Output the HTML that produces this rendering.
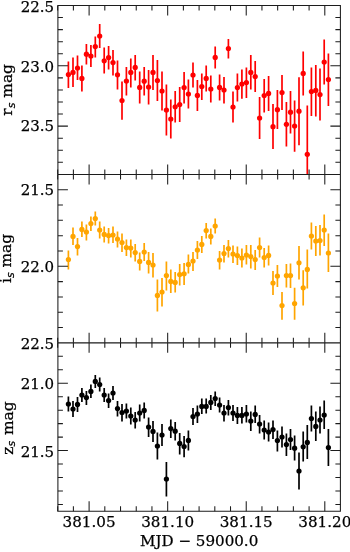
<!DOCTYPE html>
<html><head><meta charset="utf-8"><title>light curves</title>
<style>html,body{margin:0;padding:0;background:#fff}svg{display:block}text{font-family:"DejaVu Serif","Liberation Serif",serif;fill:#000;stroke:#000;stroke-width:0.25px}</style></head><body>
<svg width="350" height="552" viewBox="0 0 350 552">
<rect width="350" height="552" fill="#fff"/>
<clipPath id="c0"><rect x="57.9" y="5.50" width="282.50" height="168.90"/></clipPath>
<g clip-path="url(#c0)" stroke="#ff0000" fill="#ff0000">
<path d="M68.40 61.40V88.00M73.00 57.40V87.00M77.50 55.60V80.00M81.90 65.60V91.40M86.40 44.00V64.40M90.90 45.00V67.00M95.30 36.40V57.40M99.70 24.00V48.00M104.20 47.60V73.60M108.60 46.00V69.60M113.00 50.00V75.60M117.50 60.60V89.40M122.00 81.60V119.80M126.40 67.00V95.40M130.80 58.40V87.60M135.20 55.00V80.60M139.70 71.40V103.40M144.20 67.00V95.60M148.60 70.00V104.40M153.00 55.00V90.00M157.40 60.00V101.00M162.00 71.40V110.40M166.40 84.40V135.60M170.80 99.40V138.60M175.20 91.00V122.40M179.70 87.00V122.00M184.10 72.00V103.40M188.40 79.40V108.60M193.00 62.40V87.60M197.40 80.00V111.00M201.80 73.40V100.00M206.20 65.60V91.40M210.80 75.40V102.60M215.20 46.60V68.40M219.60 74.40V100.40M224.00 77.00V103.60M228.40 39.00V58.60M233.00 91.40V122.60M237.40 73.60V101.60M241.90 69.60V98.80M246.40 67.40V98.00M250.80 55.00V89.60M255.20 61.00V92.00M259.60 97.00V139.00M264.20 79.00V112.60M268.60 76.00V111.00M273.00 104.00V149.00M277.40 90.00V129.00M282.00 75.00V110.00M286.40 102.00V146.60M290.50 91.00V133.60M294.60 100.40V151.70M299.00 77.20V145.20M303.20 51.40V95.40M307.30 105.40V203.00M311.40 67.40V116.00M315.80 65.00V116.60M320.00 68.60V120.60M324.20 39.60V84.40M328.40 53.60V106.00" stroke-width="1.7" fill="none"/>
<circle cx="68.40" cy="74.60" r="2.62" stroke="none"/>
<circle cx="73.00" cy="72.40" r="2.62" stroke="none"/>
<circle cx="77.50" cy="68.00" r="2.62" stroke="none"/>
<circle cx="81.90" cy="78.40" r="2.62" stroke="none"/>
<circle cx="86.40" cy="54.20" r="2.62" stroke="none"/>
<circle cx="90.90" cy="56.00" r="2.62" stroke="none"/>
<circle cx="95.30" cy="46.60" r="2.62" stroke="none"/>
<circle cx="99.70" cy="36.00" r="2.62" stroke="none"/>
<circle cx="104.20" cy="60.80" r="2.62" stroke="none"/>
<circle cx="108.60" cy="57.60" r="2.62" stroke="none"/>
<circle cx="113.00" cy="62.60" r="2.62" stroke="none"/>
<circle cx="117.50" cy="74.80" r="2.62" stroke="none"/>
<circle cx="122.00" cy="100.50" r="2.62" stroke="none"/>
<circle cx="126.40" cy="81.00" r="2.62" stroke="none"/>
<circle cx="130.80" cy="72.40" r="2.62" stroke="none"/>
<circle cx="135.20" cy="67.40" r="2.62" stroke="none"/>
<circle cx="139.70" cy="87.40" r="2.62" stroke="none"/>
<circle cx="144.20" cy="81.20" r="2.62" stroke="none"/>
<circle cx="148.60" cy="87.00" r="2.62" stroke="none"/>
<circle cx="153.00" cy="72.40" r="2.62" stroke="none"/>
<circle cx="157.40" cy="80.60" r="2.62" stroke="none"/>
<circle cx="162.00" cy="91.00" r="2.62" stroke="none"/>
<circle cx="166.40" cy="110.00" r="2.62" stroke="none"/>
<circle cx="170.80" cy="119.00" r="2.62" stroke="none"/>
<circle cx="175.20" cy="106.80" r="2.62" stroke="none"/>
<circle cx="179.70" cy="104.60" r="2.62" stroke="none"/>
<circle cx="184.10" cy="87.60" r="2.62" stroke="none"/>
<circle cx="188.40" cy="94.00" r="2.62" stroke="none"/>
<circle cx="193.00" cy="75.00" r="2.62" stroke="none"/>
<circle cx="197.40" cy="95.40" r="2.62" stroke="none"/>
<circle cx="201.80" cy="86.60" r="2.62" stroke="none"/>
<circle cx="206.20" cy="78.40" r="2.62" stroke="none"/>
<circle cx="210.80" cy="89.00" r="2.62" stroke="none"/>
<circle cx="215.20" cy="57.40" r="2.62" stroke="none"/>
<circle cx="219.60" cy="87.40" r="2.62" stroke="none"/>
<circle cx="224.00" cy="90.00" r="2.62" stroke="none"/>
<circle cx="228.40" cy="48.60" r="2.62" stroke="none"/>
<circle cx="233.00" cy="107.00" r="2.62" stroke="none"/>
<circle cx="237.40" cy="87.60" r="2.62" stroke="none"/>
<circle cx="241.90" cy="84.00" r="2.62" stroke="none"/>
<circle cx="246.40" cy="82.60" r="2.62" stroke="none"/>
<circle cx="250.80" cy="72.40" r="2.62" stroke="none"/>
<circle cx="255.20" cy="76.60" r="2.62" stroke="none"/>
<circle cx="259.60" cy="118.00" r="2.62" stroke="none"/>
<circle cx="264.20" cy="95.60" r="2.62" stroke="none"/>
<circle cx="268.60" cy="93.40" r="2.62" stroke="none"/>
<circle cx="273.00" cy="126.70" r="2.62" stroke="none"/>
<circle cx="277.40" cy="109.70" r="2.62" stroke="none"/>
<circle cx="282.00" cy="92.60" r="2.62" stroke="none"/>
<circle cx="286.40" cy="124.30" r="2.62" stroke="none"/>
<circle cx="290.50" cy="112.20" r="2.62" stroke="none"/>
<circle cx="294.60" cy="126.00" r="2.62" stroke="none"/>
<circle cx="299.00" cy="111.20" r="2.62" stroke="none"/>
<circle cx="303.20" cy="73.40" r="2.62" stroke="none"/>
<circle cx="307.30" cy="154.30" r="2.62" stroke="none"/>
<circle cx="311.40" cy="91.60" r="2.62" stroke="none"/>
<circle cx="315.80" cy="90.40" r="2.62" stroke="none"/>
<circle cx="320.00" cy="94.60" r="2.62" stroke="none"/>
<circle cx="324.20" cy="62.00" r="2.62" stroke="none"/>
<circle cx="328.40" cy="79.60" r="2.62" stroke="none"/>
</g>
<path d="M57.9 17.56h5M340.4 17.56h-5M57.9 29.63h5M340.4 29.63h-5M57.9 41.69h5M340.4 41.69h-5M57.9 53.76h5M340.4 53.76h-5M57.9 65.82h10M340.4 65.82h-10M57.9 77.89h5M340.4 77.89h-5M57.9 89.95h5M340.4 89.95h-5M57.9 102.01h5M340.4 102.01h-5M57.9 114.08h5M340.4 114.08h-5M57.9 126.14h10M340.4 126.14h-10M57.9 138.21h5M340.4 138.21h-5M57.9 150.27h5M340.4 150.27h-5M57.9 162.34h5M340.4 162.34h-5M57.67 5.50v5M57.67 174.40v-5M73.39 5.50v5M73.39 174.40v-5M89.10 5.50v10M89.10 174.40v-10M104.81 5.50v5M104.81 174.40v-5M120.53 5.50v5M120.53 174.40v-5M136.24 5.50v5M136.24 174.40v-5M151.95 5.50v5M151.95 174.40v-5M167.67 5.50v10M167.67 174.40v-10M183.38 5.50v5M183.38 174.40v-5M199.09 5.50v5M199.09 174.40v-5M214.81 5.50v5M214.81 174.40v-5M230.52 5.50v5M230.52 174.40v-5M246.23 5.50v10M246.23 174.40v-10M261.95 5.50v5M261.95 174.40v-5M277.66 5.50v5M277.66 174.40v-5M293.37 5.50v5M293.37 174.40v-5M309.09 5.50v5M309.09 174.40v-5M324.80 5.50v10M324.80 174.40v-10" stroke="#1c1c1c" stroke-width="1.05" fill="none"/>
<text x="54.15" y="11.70" font-size="15.0" text-anchor="end">22.5</text>
<text x="54.15" y="71.52" font-size="15.0" text-anchor="end">23.0</text>
<text x="54.15" y="131.44" font-size="15.0" text-anchor="end">23.5</text>
<text transform="translate(12.3 89.85) rotate(-90)" font-size="15.45" text-anchor="middle">r<tspan font-family="DejaVu Sans, Liberation Sans, sans-serif" font-style="italic" font-size="10.81" dy="2.5">s</tspan><tspan dy="-2.5" dx="0"> mag</tspan></text>
<clipPath id="c1"><rect x="57.9" y="174.40" width="282.50" height="168.45"/></clipPath>
<g clip-path="url(#c1)" stroke="#ffa500" fill="#ffa500">
<path d="M68.40 250.40V269.40M73.00 227.40V245.00M77.50 238.00V255.40M81.90 221.40V237.00M86.40 224.40V240.40M90.90 216.60V231.00M95.30 211.40V225.60M99.70 221.60V238.60M104.20 226.40V242.60M108.60 228.00V243.60M113.00 226.60V243.00M117.50 231.50V247.40M122.00 233.40V252.00M126.40 239.60V256.00M130.80 239.40V257.40M135.20 244.00V261.40M139.70 252.40V270.60M144.20 243.00V261.00M148.60 252.00V273.40M153.00 253.00V277.40M157.40 279.40V311.60M162.00 278.00V306.40M166.40 261.40V290.40M170.80 269.40V293.00M175.20 272.00V292.60M179.70 264.00V285.40M184.10 263.00V285.00M188.40 254.60V273.60M193.00 252.00V271.00M197.40 241.00V259.00M201.80 236.00V253.00M206.20 223.00V238.40M210.80 228.40V244.40M215.20 218.60V233.60M219.60 251.00V269.40M224.00 245.00V262.40M228.40 240.00V257.40M233.00 245.40V263.00M237.40 246.60V265.00M241.90 248.60V267.40M246.40 245.00V264.60M250.80 245.00V268.40M255.20 250.00V270.00M259.60 237.60V257.60M264.20 248.00V267.40M268.60 245.60V265.40M273.00 271.00V295.00M277.40 265.00V287.00M282.00 292.00V319.70M286.40 264.00V287.40M290.50 263.60V288.00M294.60 287.70V319.70M299.00 246.00V279.40M303.20 270.20V305.60M307.30 249.60V288.60M311.40 222.40V249.40M315.80 226.00V256.00M320.00 225.00V255.40M324.20 214.40V246.00M328.40 233.60V272.00" stroke-width="1.7" fill="none"/>
<circle cx="68.40" cy="259.60" r="2.62" stroke="none"/>
<circle cx="73.00" cy="236.40" r="2.62" stroke="none"/>
<circle cx="77.50" cy="246.60" r="2.62" stroke="none"/>
<circle cx="81.90" cy="229.40" r="2.62" stroke="none"/>
<circle cx="86.40" cy="232.00" r="2.62" stroke="none"/>
<circle cx="90.90" cy="223.60" r="2.62" stroke="none"/>
<circle cx="95.30" cy="218.60" r="2.62" stroke="none"/>
<circle cx="99.70" cy="230.00" r="2.62" stroke="none"/>
<circle cx="104.20" cy="234.40" r="2.62" stroke="none"/>
<circle cx="108.60" cy="235.60" r="2.62" stroke="none"/>
<circle cx="113.00" cy="235.00" r="2.62" stroke="none"/>
<circle cx="117.50" cy="239.00" r="2.62" stroke="none"/>
<circle cx="122.00" cy="242.50" r="2.62" stroke="none"/>
<circle cx="126.40" cy="247.60" r="2.62" stroke="none"/>
<circle cx="130.80" cy="248.00" r="2.62" stroke="none"/>
<circle cx="135.20" cy="252.60" r="2.62" stroke="none"/>
<circle cx="139.70" cy="261.40" r="2.62" stroke="none"/>
<circle cx="144.20" cy="252.00" r="2.62" stroke="none"/>
<circle cx="148.60" cy="262.40" r="2.62" stroke="none"/>
<circle cx="153.00" cy="265.00" r="2.62" stroke="none"/>
<circle cx="157.40" cy="295.40" r="2.62" stroke="none"/>
<circle cx="162.00" cy="292.00" r="2.62" stroke="none"/>
<circle cx="166.40" cy="275.60" r="2.62" stroke="none"/>
<circle cx="170.80" cy="281.40" r="2.62" stroke="none"/>
<circle cx="175.20" cy="282.40" r="2.62" stroke="none"/>
<circle cx="179.70" cy="274.60" r="2.62" stroke="none"/>
<circle cx="184.10" cy="273.80" r="2.62" stroke="none"/>
<circle cx="188.40" cy="264.40" r="2.62" stroke="none"/>
<circle cx="193.00" cy="261.00" r="2.62" stroke="none"/>
<circle cx="197.40" cy="250.00" r="2.62" stroke="none"/>
<circle cx="201.80" cy="244.40" r="2.62" stroke="none"/>
<circle cx="206.20" cy="230.60" r="2.62" stroke="none"/>
<circle cx="210.80" cy="236.40" r="2.62" stroke="none"/>
<circle cx="215.20" cy="226.00" r="2.62" stroke="none"/>
<circle cx="219.60" cy="260.00" r="2.62" stroke="none"/>
<circle cx="224.00" cy="253.60" r="2.62" stroke="none"/>
<circle cx="228.40" cy="248.60" r="2.62" stroke="none"/>
<circle cx="233.00" cy="254.00" r="2.62" stroke="none"/>
<circle cx="237.40" cy="255.60" r="2.62" stroke="none"/>
<circle cx="241.90" cy="258.00" r="2.62" stroke="none"/>
<circle cx="246.40" cy="255.00" r="2.62" stroke="none"/>
<circle cx="250.80" cy="256.60" r="2.62" stroke="none"/>
<circle cx="255.20" cy="259.60" r="2.62" stroke="none"/>
<circle cx="259.60" cy="247.60" r="2.62" stroke="none"/>
<circle cx="264.20" cy="257.60" r="2.62" stroke="none"/>
<circle cx="268.60" cy="255.40" r="2.62" stroke="none"/>
<circle cx="273.00" cy="283.00" r="2.62" stroke="none"/>
<circle cx="277.40" cy="276.00" r="2.62" stroke="none"/>
<circle cx="282.00" cy="305.60" r="2.62" stroke="none"/>
<circle cx="286.40" cy="275.60" r="2.62" stroke="none"/>
<circle cx="290.50" cy="275.60" r="2.62" stroke="none"/>
<circle cx="294.60" cy="303.50" r="2.62" stroke="none"/>
<circle cx="299.00" cy="262.80" r="2.62" stroke="none"/>
<circle cx="303.20" cy="287.80" r="2.62" stroke="none"/>
<circle cx="307.30" cy="269.40" r="2.62" stroke="none"/>
<circle cx="311.40" cy="236.00" r="2.62" stroke="none"/>
<circle cx="315.80" cy="241.00" r="2.62" stroke="none"/>
<circle cx="320.00" cy="240.60" r="2.62" stroke="none"/>
<circle cx="324.20" cy="230.00" r="2.62" stroke="none"/>
<circle cx="328.40" cy="253.00" r="2.62" stroke="none"/>
</g>
<path d="M57.9 189.71h10M340.4 189.71h-10M57.9 205.03h5M340.4 205.03h-5M57.9 220.34h5M340.4 220.34h-5M57.9 235.65h5M340.4 235.65h-5M57.9 250.97h5M340.4 250.97h-5M57.9 266.28h10M340.4 266.28h-10M57.9 281.60h5M340.4 281.60h-5M57.9 296.91h5M340.4 296.91h-5M57.9 312.22h5M340.4 312.22h-5M57.9 327.54h5M340.4 327.54h-5M57.67 174.40v5M57.67 342.85v-5M73.39 174.40v5M73.39 342.85v-5M89.10 174.40v10M89.10 342.85v-10M104.81 174.40v5M104.81 342.85v-5M120.53 174.40v5M120.53 342.85v-5M136.24 174.40v5M136.24 342.85v-5M151.95 174.40v5M151.95 342.85v-5M167.67 174.40v10M167.67 342.85v-10M183.38 174.40v5M183.38 342.85v-5M199.09 174.40v5M199.09 342.85v-5M214.81 174.40v5M214.81 342.85v-5M230.52 174.40v5M230.52 342.85v-5M246.23 174.40v10M246.23 342.85v-10M261.95 174.40v5M261.95 342.85v-5M277.66 174.40v5M277.66 342.85v-5M293.37 174.40v5M293.37 342.85v-5M309.09 174.40v5M309.09 342.85v-5M324.80 174.40v10M324.80 342.85v-10" stroke="#1c1c1c" stroke-width="1.05" fill="none"/>
<text x="54.15" y="195.41" font-size="15.0" text-anchor="end">21.5</text>
<text x="54.15" y="271.98" font-size="15.0" text-anchor="end">22.0</text>
<text x="54.15" y="348.55" font-size="15.0" text-anchor="end">22.5</text>
<text transform="translate(11.4 258.43) rotate(-90)" font-size="15.45" text-anchor="middle">i<tspan font-family="DejaVu Sans, Liberation Sans, sans-serif" font-style="italic" font-size="10.81" dy="2.5">s</tspan><tspan dy="-2.5" dx="0"> mag</tspan></text>
<clipPath id="c2"><rect x="57.9" y="342.85" width="282.50" height="168.30"/></clipPath>
<g clip-path="url(#c2)" stroke="#000000" fill="#000000">
<path d="M68.40 396.60V411.60M73.00 401.00V417.00M77.50 397.00V412.00M81.90 388.00V402.00M86.40 391.00V405.00M90.90 384.60V398.00M95.30 375.00V388.00M99.70 377.60V391.40M104.20 388.00V402.00M108.60 393.40V408.00M113.00 386.00V400.00M117.50 401.00V416.40M122.00 404.00V421.40M126.40 403.40V418.60M130.80 407.60V424.40M135.20 412.00V428.60M139.70 404.60V421.40M144.20 402.40V418.60M148.60 417.40V437.00M153.00 421.00V442.00M157.40 432.60V459.60M162.00 424.00V446.00M166.40 462.00V496.40M170.80 419.40V438.00M175.20 422.00V440.40M179.70 433.00V454.40M184.10 436.00V457.20M188.40 430.40V450.40M193.00 408.00V425.00M197.40 405.60V423.00M201.80 398.40V414.00M206.20 398.60V413.60M210.80 395.00V410.00M215.20 391.40V406.00M219.60 397.40V412.60M224.00 405.00V421.40M228.40 400.00V415.40M233.00 405.00V421.00M237.40 407.00V424.00M241.90 407.00V423.60M246.40 405.00V422.60M250.80 411.60V431.00M255.20 405.60V423.00M259.60 415.00V433.60M264.20 420.60V439.40M268.60 422.40V441.60M273.00 420.60V439.00M277.40 430.40V451.60M282.00 426.40V447.40M286.40 433.60V456.00M290.50 429.00V450.00M294.60 435.60V460.60M299.00 452.40V489.60M303.20 431.60V461.60M307.30 425.00V459.00M311.40 405.60V431.40M315.80 411.60V441.00M320.00 406.40V433.60M324.20 400.40V429.00M328.40 429.00V466.00" stroke-width="1.7" fill="none"/>
<circle cx="68.40" cy="404.00" r="2.62" stroke="none"/>
<circle cx="73.00" cy="409.00" r="2.62" stroke="none"/>
<circle cx="77.50" cy="404.40" r="2.62" stroke="none"/>
<circle cx="81.90" cy="395.00" r="2.62" stroke="none"/>
<circle cx="86.40" cy="397.60" r="2.62" stroke="none"/>
<circle cx="90.90" cy="391.40" r="2.62" stroke="none"/>
<circle cx="95.30" cy="381.40" r="2.62" stroke="none"/>
<circle cx="99.70" cy="384.60" r="2.62" stroke="none"/>
<circle cx="104.20" cy="395.00" r="2.62" stroke="none"/>
<circle cx="108.60" cy="400.60" r="2.62" stroke="none"/>
<circle cx="113.00" cy="393.00" r="2.62" stroke="none"/>
<circle cx="117.50" cy="408.60" r="2.62" stroke="none"/>
<circle cx="122.00" cy="412.50" r="2.62" stroke="none"/>
<circle cx="126.40" cy="411.00" r="2.62" stroke="none"/>
<circle cx="130.80" cy="416.00" r="2.62" stroke="none"/>
<circle cx="135.20" cy="420.00" r="2.62" stroke="none"/>
<circle cx="139.70" cy="413.00" r="2.62" stroke="none"/>
<circle cx="144.20" cy="410.40" r="2.62" stroke="none"/>
<circle cx="148.60" cy="427.00" r="2.62" stroke="none"/>
<circle cx="153.00" cy="431.40" r="2.62" stroke="none"/>
<circle cx="157.40" cy="446.00" r="2.62" stroke="none"/>
<circle cx="162.00" cy="435.00" r="2.62" stroke="none"/>
<circle cx="166.40" cy="479.00" r="2.62" stroke="none"/>
<circle cx="170.80" cy="428.60" r="2.62" stroke="none"/>
<circle cx="175.20" cy="431.20" r="2.62" stroke="none"/>
<circle cx="179.70" cy="443.40" r="2.62" stroke="none"/>
<circle cx="184.10" cy="446.50" r="2.62" stroke="none"/>
<circle cx="188.40" cy="440.40" r="2.62" stroke="none"/>
<circle cx="193.00" cy="416.60" r="2.62" stroke="none"/>
<circle cx="197.40" cy="414.00" r="2.62" stroke="none"/>
<circle cx="201.80" cy="406.40" r="2.62" stroke="none"/>
<circle cx="206.20" cy="406.40" r="2.62" stroke="none"/>
<circle cx="210.80" cy="402.40" r="2.62" stroke="none"/>
<circle cx="215.20" cy="398.60" r="2.62" stroke="none"/>
<circle cx="219.60" cy="405.00" r="2.62" stroke="none"/>
<circle cx="224.00" cy="413.00" r="2.62" stroke="none"/>
<circle cx="228.40" cy="407.60" r="2.62" stroke="none"/>
<circle cx="233.00" cy="413.00" r="2.62" stroke="none"/>
<circle cx="237.40" cy="415.40" r="2.62" stroke="none"/>
<circle cx="241.90" cy="415.40" r="2.62" stroke="none"/>
<circle cx="246.40" cy="414.00" r="2.62" stroke="none"/>
<circle cx="250.80" cy="421.00" r="2.62" stroke="none"/>
<circle cx="255.20" cy="414.40" r="2.62" stroke="none"/>
<circle cx="259.60" cy="424.00" r="2.62" stroke="none"/>
<circle cx="264.20" cy="430.00" r="2.62" stroke="none"/>
<circle cx="268.60" cy="432.00" r="2.62" stroke="none"/>
<circle cx="273.00" cy="429.60" r="2.62" stroke="none"/>
<circle cx="277.40" cy="440.60" r="2.62" stroke="none"/>
<circle cx="282.00" cy="437.00" r="2.62" stroke="none"/>
<circle cx="286.40" cy="444.60" r="2.62" stroke="none"/>
<circle cx="290.50" cy="439.50" r="2.62" stroke="none"/>
<circle cx="294.60" cy="448.20" r="2.62" stroke="none"/>
<circle cx="299.00" cy="471.00" r="2.62" stroke="none"/>
<circle cx="303.20" cy="446.80" r="2.62" stroke="none"/>
<circle cx="307.30" cy="442.40" r="2.62" stroke="none"/>
<circle cx="311.40" cy="418.60" r="2.62" stroke="none"/>
<circle cx="315.80" cy="426.40" r="2.62" stroke="none"/>
<circle cx="320.00" cy="420.00" r="2.62" stroke="none"/>
<circle cx="324.20" cy="415.00" r="2.62" stroke="none"/>
<circle cx="328.40" cy="447.60" r="2.62" stroke="none"/>
</g>
<path d="M57.9 356.31h5M340.4 356.31h-5M57.9 369.78h5M340.4 369.78h-5M57.9 383.24h10M340.4 383.24h-10M57.9 396.71h5M340.4 396.71h-5M57.9 410.17h5M340.4 410.17h-5M57.9 423.63h5M340.4 423.63h-5M57.9 437.10h5M340.4 437.10h-5M57.9 450.56h10M340.4 450.56h-10M57.9 464.03h5M340.4 464.03h-5M57.9 477.49h5M340.4 477.49h-5M57.9 490.95h5M340.4 490.95h-5M57.9 504.42h5M340.4 504.42h-5M57.67 342.85v5M57.67 511.15v-5M73.39 342.85v5M73.39 511.15v-5M89.10 342.85v10M89.10 511.15v-10M104.81 342.85v5M104.81 511.15v-5M120.53 342.85v5M120.53 511.15v-5M136.24 342.85v5M136.24 511.15v-5M151.95 342.85v5M151.95 511.15v-5M167.67 342.85v10M167.67 511.15v-10M183.38 342.85v5M183.38 511.15v-5M199.09 342.85v5M199.09 511.15v-5M214.81 342.85v5M214.81 511.15v-5M230.52 342.85v5M230.52 511.15v-5M246.23 342.85v10M246.23 511.15v-10M261.95 342.85v5M261.95 511.15v-5M277.66 342.85v5M277.66 511.15v-5M293.37 342.85v5M293.37 511.15v-5M309.09 342.85v5M309.09 511.15v-5M324.80 342.85v10M324.80 511.15v-10" stroke="#1c1c1c" stroke-width="1.05" fill="none"/>
<text x="54.15" y="388.74" font-size="15.0" text-anchor="end">21.0</text>
<text x="54.15" y="456.56" font-size="15.0" text-anchor="end">21.5</text>
<text transform="translate(12.5 428.00) rotate(-90)" font-size="15.45" text-anchor="middle">z<tspan font-family="DejaVu Sans, Liberation Sans, sans-serif" font-style="italic" font-size="10.81" dy="2.5">s</tspan><tspan dy="-2.5" dx="1.0"> mag</tspan></text>
<path d="M57.9 5.5H340.4V511.15H57.9ZM57.9 174.4H340.4M57.9 342.85H340.4" fill="none" stroke="#1c1c1c" stroke-width="1.05"/>
<text x="89.10" y="526.9" font-size="15.15" text-anchor="middle">381.05</text>
<text x="167.67" y="526.9" font-size="15.15" text-anchor="middle">381.10</text>
<text x="246.23" y="526.9" font-size="15.15" text-anchor="middle">381.15</text>
<text x="324.80" y="526.9" font-size="15.15" text-anchor="middle">381.20</text>
<text x="199.15" y="545.6" font-size="15.1" text-anchor="middle">MJD − 59000.0</text>
</svg></body></html>
